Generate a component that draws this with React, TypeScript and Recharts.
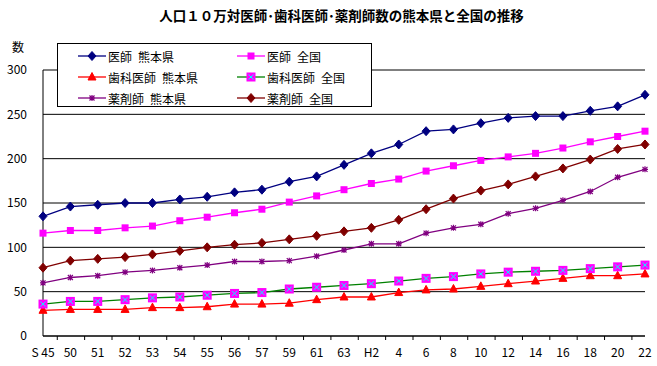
import React from 'react';
import { LineChart, Line, XAxis, YAxis, CartesianGrid } from 'recharts';

// 年次
const categories = ['S 45', '50', '51', '52', '53', '54', '55', '56', '57', '59', '61', '63', 'H2', '4', '6', '8', '10', '12', '14', '16', '18', '20', '22'];

const docKuma   = [135, 146, 148, 150, 150, 154, 157, 162, 165, 174, 180, 193, 206, 216, 231, 233, 240, 246, 248, 248, 254, 259, 272];
const docNat    = [116, 119, 119, 122, 124, 130, 134, 139, 143, 151, 158, 165, 172, 177, 186, 192, 198, 202, 206, 212, 219, 225, 231];
const dentKuma  = [29, 30, 30, 30, 32, 32, 33, 36, 36, 37, 41, 44, 44, 49, 52, 53, 56, 59, 62, 65, 68, 68, 70];
const dentNat   = [36, 39, 39, 41, 43, 44, 46, 48, 49, 53, 55, 57, 59, 62, 65, 67, 70, 72, 73, 74, 76, 78, 80];
const pharmKuma = [60, 66, 68, 72, 74, 77, 80, 84, 84, 85, 90, 97, 104, 104, 116, 122, 126, 138, 144, 153, 163, 179, 188];
const pharmNat  = [77, 85, 87, 89, 92, 96, 100, 103, 105, 109, 113, 118, 122, 131, 143, 155, 164, 171, 180, 189, 199, 211, 216];

const yTicks = [0, 50, 100, 150, 200, 250, 300];

const data = categories.map((c, i) => ({
  cat: c,
  docKuma: docKuma[i],
  docNat: docNat[i],
  dentKuma: dentKuma[i],
  dentNat: dentNat[i],
  pharmKuma: pharmKuma[i],
  pharmNat: pharmNat[i],
}));

const FONT = '"Noto Sans CJK JP", "Noto Sans", sans-serif';
const W = 657, H = 366;
const M = { top: 70, right: 12, left: 0, bottom: 0 };
const Y_W = 43;
const BAND = (W - M.left - M.right - Y_W) / categories.length;

// ── markers ───────────────────────────────────────────────────────────────
type Mk = (cx: number, cy: number, k?: string) => React.ReactElement;

const diamond = (color: string): Mk => (cx, cy, k) => (
  <path key={k} d={`M${cx},${cy - 4.5}L${cx + 4},${cy}L${cx},${cy + 4.5}L${cx - 4},${cy}Z`} fill={color} stroke={color} />
);
const square = (color: string): Mk => (cx, cy, k) => (
  <rect key={k} x={cx - 3.5} y={cy - 3.5} width={7} height={7} fill={color} />
);
const triangle = (color: string): Mk => (cx, cy, k) => (
  <path key={k} d={`M${cx},${cy - 4.5}L${cx + 4},${cy + 3}L${cx - 4},${cy + 3}Z`} fill={color} stroke={color} />
);
const xSquare: Mk = (cx, cy, k) => (
  <g key={k}>
    <rect x={cx - 4.5} y={cy - 4.5} width={9} height={9} fill="#ff00ff" />
    <path d={`M${cx - 2.5},${cy - 2.5}L${cx + 2.5},${cy + 2.5}M${cx + 2.5},${cy - 2.5}L${cx - 2.5},${cy + 2.5}`} stroke="#00ffff" strokeWidth={1} />
  </g>
);
const asterisk = (color: string): Mk => (cx, cy, k) => (
  <path key={k}
    d={`M${cx - 3},${cy}L${cx + 3},${cy}M${cx},${cy - 3}L${cx},${cy + 3}M${cx - 2.5},${cy - 2.5}L${cx + 2.5},${cy + 2.5}M${cx + 2.5},${cy - 2.5}L${cx - 2.5},${cy + 2.5}`}
    stroke={color} strokeWidth={1.2} />
);

const SERIES: Array<{ key: string; name: string; color: string; marker: Mk }> = [
  { key: 'docKuma',   name: '医師\u2002熊本県',     color: '#000080', marker: diamond('#000080') },
  { key: 'docNat',    name: '医師\u2002全国',       color: '#ff00ff', marker: square('#ff00ff') },
  { key: 'dentKuma',  name: '歯科医師\u2002熊本県', color: '#ff0000', marker: triangle('#ff0000') },
  { key: 'dentNat',   name: '歯科医師\u2002全国',   color: '#008000', marker: xSquare },
  { key: 'pharmKuma', name: '薬剤師\u2002熊本県',   color: '#800080', marker: asterisk('#800080') },
  { key: 'pharmNat',  name: '薬剤師\u2002全国',     color: '#800000', marker: diamond('#800000') },
];

const XTick = (props: any) => {
  const { x, y, payload, index } = props;
  const last = index === categories.length - 1;
  return (
    <g>
      {index > 0 && <line x1={x - BAND / 2} x2={x - BAND / 2} y1={y} y2={y + 4} stroke="#000" />}
      {last && <line x1={x + BAND / 2} x2={x + BAND / 2} y1={y} y2={y + 4} stroke="#000" />}
      <text x={x} y={y + 21} textAnchor="middle" fontSize={12} fontFamily={FONT} fill="#000" style={{ whiteSpace: 'pre' }}>{payload.value}</text>
    </g>
  );
};

const LegendBox: React.FC = () => (
  <div style={{
    position: 'absolute', left: 57, top: 43, width: 315, height: 64,
    border: '1px solid #000', background: '#fff', boxSizing: 'border-box',
    fontFamily: FONT, fontSize: 12, color: '#000',
  }}>
    {SERIES.map((s, i) => {
      const col = i % 2, row = Math.floor(i / 2);
      return (
        <div key={s.key} style={{ position: 'absolute', left: col === 0 ? 20 : 179, top: 4 + row * 21, height: 16, display: 'flex', alignItems: 'center', whiteSpace: 'pre' }}>
          <svg width={28} height={16}>
            <line x1={0} x2={28} y1={8} y2={8} stroke={s.color} strokeWidth={1.3} />
            {s.marker(14, 8)}
          </svg>
          <span style={{ marginLeft: 2 }}>{s.name}</span>
        </div>
      );
    })}
  </div>
);

export default function App() {
  return (
    <div style={{ position: 'absolute', left: 0, top: 0, width: W, height: H, background: '#fff' }}>
      <div style={{ position: 'absolute', left: 0, width: W, top: 5, textAlign: 'center', paddingLeft: 26, boxSizing: 'border-box', fontFamily: FONT, fontWeight: 'bold', fontSize: 13.5, color: '#000' }}>
        人口１０万対医師･歯科医師･薬剤師数の熊本県と全国の推移
      </div>
      <div style={{ position: 'absolute', left: 12, top: 38, fontFamily: FONT, fontSize: 12, color: '#000' }}>数</div>
      <LineChart width={W} height={H} data={data} margin={M}>
        <CartesianGrid vertical={false} stroke="#000" strokeOpacity={1} />
        <XAxis dataKey="cat" height={30} axisLine={{ stroke: '#000' }} tickLine={false} tickSize={0} tickMargin={0}
          tick={<XTick />} interval={0} />
        <YAxis domain={[0, 300]} ticks={yTicks} width={Y_W} axisLine={{ stroke: '#000' }} tickLine={false} tickMargin={10}
          tick={{ fill: '#000', fontSize: 12, fontFamily: FONT }} />
        {SERIES.map(s => (
          <Line key={s.key} dataKey={s.key} name={s.name} stroke={s.color} strokeWidth={1.3}
            type="linear" isAnimationActive={false}
            dot={(p: any) => s.marker(p.cx, p.cy, `${s.key}-${p.index}`)} activeDot={false} />
        ))}
      </LineChart>
      <LegendBox />
    </div>
  );
}
